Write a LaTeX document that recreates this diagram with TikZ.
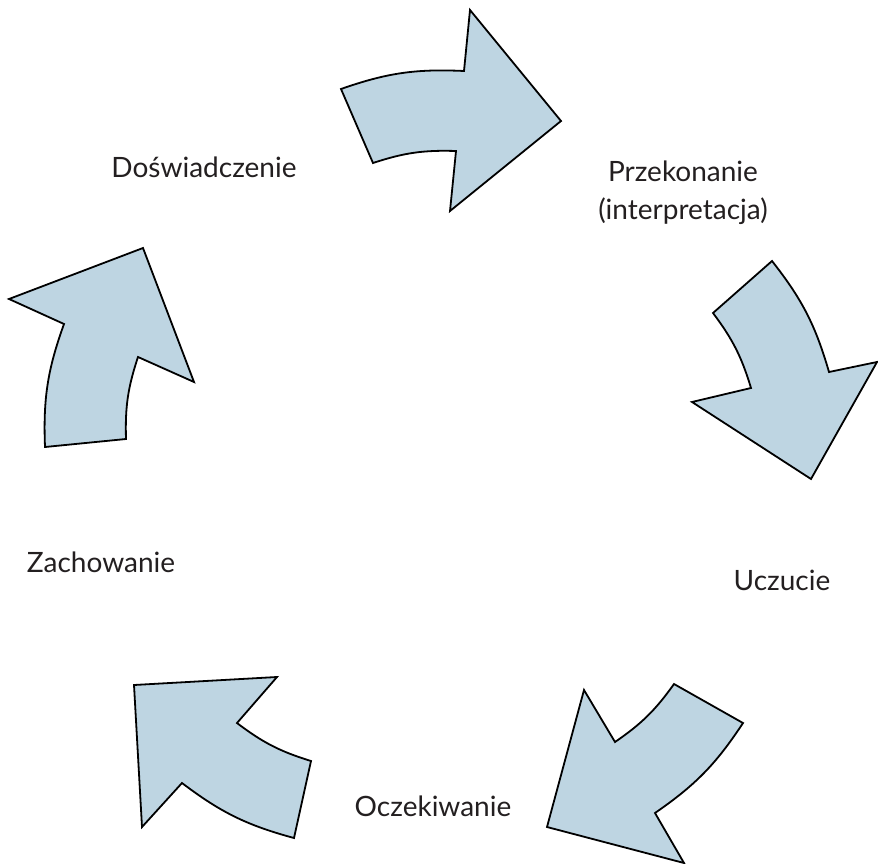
\documentclass[tikz,border=0pt]{standalone}
\usepackage{fontspec}
\setmainfont{Lato}
\definecolor{arrowblue}{RGB}{190,213,226}
\definecolor{labelgray}{RGB}{35,31,32}

\begin{document}
\begin{tikzpicture}[x=1pt,y=-1pt,
  every node/.style={text=labelgray,font=\fontsize{28}{38}\selectfont,align=center},
  arrowshape/.style={draw=black,fill=arrowblue,line width=1.8pt,line join=miter}
]
    \useasboundingbox (0,0) rectangle (878,864);
    % labels
    \node (experience) at (204,167) {Doświadczenie};
    \node (belief) at (683,193) {Przekonanie\\(interpretacja)};
    \node (feeling) at (782,580) {Uczucie};
    \node (expectation) at (433,806) {Oczekiwanie};
    \node (behaviour) at (101,562) {Zachowanie};
    % arrows
    \draw[arrowshape] (341,89) to[bend left=11] (464,71) -- (470,10) -- (561,121)
      -- (450,211) -- (456,151) to[bend right=10] (373,163) -- cycle;
    \draw[arrowshape] (772,261) to[bend left=11] (829,372) -- (877,362) -- (811,479)
      -- (692,402) -- (751,388) to[bend right=10] (713,313) -- cycle;
    \draw[arrowshape] (743,723) to[bend left=11] (655,813) -- (684,863) -- (547,827)
      -- (584,690) -- (615,742) to[bend right=10] (674,684) -- cycle;
    \draw[arrowshape] (294,838) to[bend left=11] (182,783) -- (142,827) -- (134,685)
      -- (277,677) -- (237,723) to[bend right=10] (311,761) -- cycle;
    \draw[arrowshape] (45,447) to[bend left=11] (64,324) -- (9,299) -- (143,248)
      -- (194,382) -- (138,357) to[bend right=10] (126,439) -- cycle;
\end{tikzpicture}
\end{document}
